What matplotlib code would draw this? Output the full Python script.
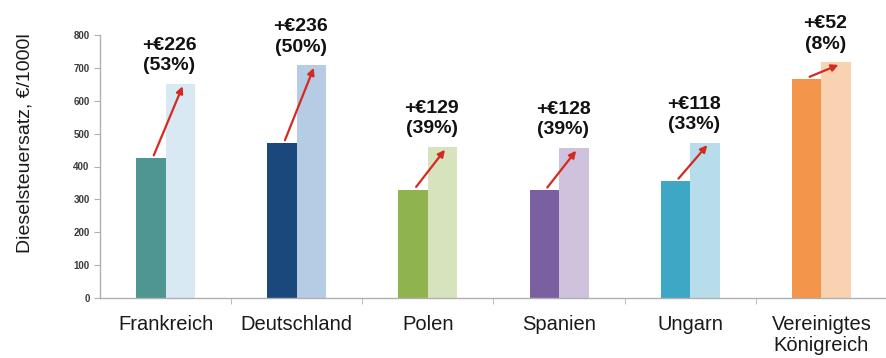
import matplotlib
matplotlib.use("Agg")
import matplotlib.pyplot as plt
import numpy as np

plt.rcParams["font.family"] = ["Liberation Sans", "DejaVu Sans"]

# Diesel tax rates, EUR per 1000 litres
countries = ["Frankreich", "Deutschland", "Polen", "Spanien", "Ungarn", "Vereinigtes\nKönigreich"]
current_rate = [426, 472, 330, 328, 355, 665]
increase = [226, 236, 129, 128, 118, 52]
increase_pct = [53, 50, 39, 39, 33, 8]
proposed_rate = [c + d for c, d in zip(current_rate, increase)]

dark_colors = ["#4f9692", "#1b487c", "#8eb34f", "#7b60a1", "#3ea7c5", "#f3954a"]
light_colors = ["#d8e9f4", "#b6cbe4", "#d7e3bd", "#cfc2dd", "#b6dde9", "#f9d2b1"]
arrow_color = "#d42a20"

fig = plt.figure(figsize=(8.87, 3.58), dpi=100)
ax = fig.add_axes([100 / 887, 60 / 358, 787 / 887, 263 / 358])

x = np.arange(len(countries))
w = 0.225
ax.bar(x - w / 2, current_rate, width=w, color=dark_colors, zorder=2)
ax.bar(x + w / 2, proposed_rate, width=w, color=light_colors, zorder=2)

for xi, cur, new, d, p in zip(x, current_rate, proposed_rate, increase, increase_pct):
    ax.annotate("", xy=(xi + 0.13, new - 8), xytext=(xi - 0.09, cur + 8),
                arrowprops=dict(arrowstyle="-|>", color=arrow_color, lw=1.6,
                                mutation_scale=10, shrinkA=0, shrinkB=0),
                zorder=3)
    ax.annotate(f"+€{d}\n({p}%)", xy=(xi + 0.03, new), xytext=(0, 7),
                textcoords="offset points", ha="center", va="bottom",
                fontsize=14, fontweight="bold", color="#111111",
                linespacing=1.25)

ax.set_xlim(-0.5, len(countries) - 0.5)
ax.set_ylim(0, 800)
ax.set_yticks(np.arange(0, 801, 100))

ax.set_xticks(x)
ax.set_xticklabels(countries, fontsize=14.5, color="#1a1a1a", linespacing=1.15)
ax.set_xticks(np.arange(0.5, len(countries) - 0.5, 1), minor=True)
ax.tick_params(axis="x", which="major", length=0, pad=12)
ax.tick_params(axis="x", which="minor", length=4, color="#b0b0b0", direction="out")
ax.tick_params(axis="y", length=4, color="#b0b0b0", pad=3.5,
               labelsize=7, labelcolor="#3a3a3a")
for lbl in ax.get_yticklabels():
    lbl.set_fontweight("bold")

ax.set_ylabel("Dieselsteuersatz, €/1000l", fontsize=14, color="#1a1a1a")
ax.yaxis.set_label_coords(-0.085, 0.59)

for side in ("top", "right"):
    ax.spines[side].set_visible(False)
for side in ("left", "bottom"):
    ax.spines[side].set_color("#b0b0b0")
    ax.spines[side].set_linewidth(1.0)

fig.savefig("out.png", dpi=100)
